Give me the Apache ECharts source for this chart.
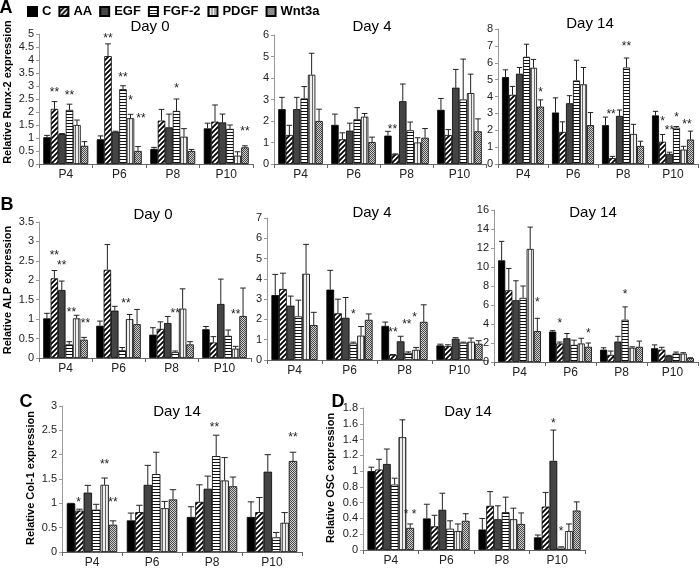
<!DOCTYPE html>
<html>
<head>
<meta charset="utf-8">
<script src="https://cdn.jsdelivr.net/npm/echarts@6/dist/echarts.min.js"></script>
<style>
html, body { margin: 0; padding: 0; background: #fff; }
#main { width: 700px; height: 569px; }
</style>
</head>
<body>
<div id="main"></div>
<script>
// categories and treatment groups
var categories = ['P4', 'P6', 'P8', 'P10'];
var groups = ['C', 'AA', 'EGF', 'FGF-2', 'PDGF', 'Wnt3a'];

// A - Runx-2, rows = groups, cols = P4..P10
var runxDay0 = [[1.03, 0.95, 0.58, 1.37], [2.12, 4.15, 1.67, 1.63], [1.15, 1.24, 1.41, 1.6], [2.08, 2.88, 2.04, 1.35], [1.5, 1.76, 1.05, 0.32], [0.7, 0.5, 0.5, 0.64]];
var runxDay0Sd = [[0.07, 0.13, 0.06, 0.2], [0.28, 0.47, 0.43, 0.64], [0.02, 0.02, 0.51, 0.32], [0.22, 0.13, 0.46, 0.15], [0.19, 0.15, 0.31, 0.15], [0.16, 0.17, 0.06, 0.06]];
var runxDay0Stars = [[0, 1, 2.85, '**'], [0, 3, 2.75, '**'], [1, 1, 4.95, '**'], [1, 3, 3.45, '**'], [1, 4, 2.55, '*'], [1, 5.4, 1.85, '**'], [2, 3, 3.0, '*'], [3, 5, 1.35, '**']];

var runxDay4 = [[2.55, 1.82, 1.32, 2.52], [1.35, 1.15, 0.45, 1.35], [2.55, 1.55, 2.92, 3.55], [3.05, 2.08, 1.57, 3.0], [4.15, 2.2, 1.0, 3.3], [2.0, 1.02, 1.22, 1.52]];
var runxDay4Sd = [[0.55, 0.5, 0.2, 0.53], [0.45, 0.3, 0.02, 0.25], [0.55, 0.35, 0.8, 0.85], [0.55, 0.54, 0.38, 1.88], [1.0, 0.15, 0.22, 0.88], [0.55, 0.23, 0.43, 0.58]];
var runxDay4Stars = [[2, 0.6, 1.75, '**']];

var runxDay14 = [[5.15, 3.05, 2.3, 2.88], [4.1, 1.9, 0.35, 1.32], [5.35, 3.6, 2.85, 0.6], [6.35, 4.95, 5.72, 2.15], [5.7, 4.72, 1.78, 0.85], [3.4, 2.3, 1.07, 1.45]];
var runxDay14Sd = [[0.43, 0.87, 0.48, 0.24], [0.5, 0.6, 0.1, 0.43], [0.37, 0.45, 0.35, 0.1], [0.75, 1.2, 0.56, 0.07], [0.5, 1.0, 0.57, 0.2], [0.4, 0.75, 0.28, 0.5]];
var runxDay14Stars = [[0, 5, 4.4, '*'], [2, 0.8, 3.1, '**'], [2, 3, 7.15, '**'], [3, 1, 2.7, '*'], [3, 2, 2.15, '**'], [3, 3, 2.9, '*'], [3, 4.5, 2.5, '**']];

// B - ALP
var alpDay0 = [[1.02, 0.83, 0.6, 0.74], [2.05, 2.27, 0.75, 0.4], [1.75, 1.22, 0.9, 1.39], [0.35, 0.2, 0.15, 0.57], [1.02, 1.0, 1.27, 0.24], [0.47, 0.87, 0.35, 1.08]];
var alpDay0Sd = [[0.13, 0.12, 0.18, 0.07], [0.2, 0.65, 0.18, 0.15], [0.23, 0.11, 0.17, 0.64], [0.07, 0.07, 0.03, 0.15], [0.08, 0.12, 0.51, 0.06], [0.06, 0.38, 0.07, 0.72]];
var alpDay0Stars = [[0, 1, 2.7, '**'], [0, 2, 2.45, '**'], [0, 3.3, 1.24, '**'], [0, 5.2, 0.96, '**'], [1, 3.5, 1.47, '**'], [2, 3, 1.21, '**'], [3, 4, 1.18, '**']];

var alpDay4 = [[3.2, 3.47, 1.68, 0.72], [3.5, 2.3, 0.25, 0.68], [2.68, 2.08, 0.92, 1.05], [2.15, 0.82, 0.35, 0.85], [4.25, 1.2, 0.5, 0.9], [1.72, 1.98, 1.88, 0.8]];
var alpDay4Sd = [[1.02, 0.95, 0.19, 0.06], [0.78, 0.7, 0.02, 0.07], [0.47, 1.0, 0.25, 0.05], [0.8, 0.06, 0.05, 0.03], [1.45, 0.45, 0.12, 0.18], [0.63, 0.29, 0.84, 0.15]];
var alpDay4Stars = [[1, 3, 2.36, '*'], [2, 1, 1.5, '**'], [2, 2.8, 1.9, '**'], [2, 3.8, 2.25, '*']];

var alpDay14 = [[10.7, 3.2, 1.3, 1.45], [7.55, 1.95, 0.75, 1.3], [6.5, 2.5, 2.15, 0.65], [6.75, 1.8, 4.45, 0.9], [11.9, 1.95, 1.5, 0.88], [3.25, 1.6, 1.6, 0.4]];
var alpDay14Sd = [[2.0, 0.1, 0.2, 0.35], [2.3, 0.15, 0.4, 0.25], [2.05, 0.5, 0.55, 0.05], [1.25, 0.5, 1.35, 0.15], [2.3, 0.55, 0.1, 0.1], [1.35, 0.4, 0.6, 0.05]];
var alpDay14Stars = [[0, 5, 6.6, '*'], [1, 1, 4.3, '*'], [1, 5, 3.3, '*'], [2, 3, 7.4, '*']];

// C - Col-1, D - OSC (day 14)
var colDay14 = [[1.0, 0.65, 0.72, 0.72], [0.85, 0.82, 1.03, 0.82], [1.22, 1.38, 1.3, 1.65], [0.87, 1.6, 1.97, 0.3], [1.38, 0.9, 1.47, 0.6], [0.56, 1.08, 1.35, 1.87]];
var colDay14Sd = [[0.0, 0.15, 0.21, 0.31], [0.03, 0.14, 0.35, 0.3], [0.15, 0.4, 0.26, 0.35], [0.11, 0.45, 0.43, 0.1], [0.14, 0.14, 0.47, 0.21], [0.08, 0.2, 0.19, 0.18]];
var colDay14Stars = [[0, 0.9, 1.07, '*'], [0, 4, 1.86, '**'], [0, 5, 1.08, '**'], [2, 2.8, 2.61, '**'], [3, 5, 2.41, '**']];

var oscDay14 = [[1.0, 0.4, 0.26, 0.16], [1.02, 0.3, 0.56, 0.55], [1.09, 0.51, 0.39, 1.13], [0.83, 0.27, 0.48, 0.03], [1.43, 0.24, 0.39, 0.24], [0.28, 0.37, 0.33, 0.5]];
var oscDay14Sd = [[0.05, 0.18, 0.14, 0.03], [0.13, 0.14, 0.18, 0.18], [0.19, 0.21, 0.17, 0.39], [0.08, 0.1, 0.19, 0.01], [0.22, 0.09, 0.14, 0.09], [0.05, 0.09, 0.14, 0.11]];
var oscDay14Stars = [[0, 5, 0.49, '* *'], [3, 2, 1.64, '*'], [3, 3, 0.27, '*']];

var GAP = 0.16;
var FONT = 'Arial, "Liberation Sans", sans-serif';

// small canvas tiles for the excel-like fills
function makeTile(w, h, draw) {
	var c = document.createElement('canvas');
	c.width = w;
	c.height = h;
	draw(c.getContext('2d'));
	return { image: c, repeat: 'repeat' };
}

var fills = [
	'#000',
	makeTile(5, 5, function(ctx) {
		ctx.fillStyle = '#fff';
		ctx.fillRect(0, 0, 5, 5);
		ctx.strokeStyle = '#000';
		ctx.lineWidth = 1.8;
		ctx.beginPath();
		ctx.moveTo(-1, 6); ctx.lineTo(6, -1);
		ctx.moveTo(-1, 1); ctx.lineTo(1, -1);
		ctx.moveTo(4, 6); ctx.lineTo(6, 4);
		ctx.stroke();
	}),
	'#444',
	makeTile(4, 3, function(ctx) {
		ctx.fillStyle = '#fff';
		ctx.fillRect(0, 0, 4, 3);
		ctx.fillStyle = '#111';
		ctx.fillRect(0, 0, 4, 1);
	}),
	makeTile(3, 4, function(ctx) {
		ctx.fillStyle = '#eee';
		ctx.fillRect(0, 0, 3, 4);
		ctx.fillStyle = '#666';
		ctx.fillRect(0, 0, 1, 4);
	}),
	makeTile(2, 2, function(ctx) {
		ctx.fillStyle = '#d0d0d0';
		ctx.fillRect(0, 0, 2, 2);
		ctx.fillStyle = '#4a4a4a';
		ctx.fillRect(0, 0, 1, 1);
		ctx.fillRect(1, 1, 1, 1);
	})
];

var panels = [
	{ vals: runxDay0, sd: runxDay0Sd, stars: runxDay0Stars, max: 5, step: 0.5, grid: { left: 39, top: 34, width: 214, height: 130 } },
	{ vals: runxDay4, sd: runxDay4Sd, stars: runxDay4Stars, max: 6, step: 1, grid: { left: 274, top: 35, width: 212, height: 129 } },
	{ vals: runxDay14, sd: runxDay14Sd, stars: runxDay14Stars, max: 8, step: 1, grid: { left: 498, top: 29, width: 200, height: 135 } },
	{ vals: alpDay0, sd: alpDay0Sd, stars: alpDay0Stars, max: 3.5, step: 0.5, grid: { left: 39, top: 222, width: 212, height: 136 } },
	{ vals: alpDay4, sd: alpDay4Sd, stars: alpDay4Stars, max: 7, step: 1, grid: { left: 267, top: 218, width: 220, height: 142 } },
	{ vals: alpDay14, sd: alpDay14Sd, stars: alpDay14Stars, max: 16, step: 2, grid: { left: 494, top: 210, width: 204, height: 152 } },
	{ vals: colDay14, sd: colDay14Sd, stars: colDay14Stars, max: 3, step: 0.5, grid: { left: 62, top: 406, width: 240, height: 149 } },
	{ vals: oscDay14, sd: oscDay14Sd, stars: oscDay14Stars, max: 1.8, step: 0.2, grid: { left: 363, top: 408, width: 222, height: 142 } }
];

// x position of bar j inside a category
function barX(api, cat, j, y) {
	var pt = api.coord([cat, y]);
	var catW = api.size([1, 0])[0];
	var total = catW * (1 - GAP);
	var bw = total / 6;
	return { x: pt[0] - total / 2 + bw * (j + 0.5), y: pt[1], bw: bw };
}

function renderErr(params, api) {
	var b = barX(api, api.value(0), api.value(3), api.value(1));
	var t = barX(api, api.value(0), api.value(3), api.value(2));
	var cap = b.bw * 0.38;
	return {
		type: 'group',
		children: [
			{ type: 'line', shape: { x1: b.x, y1: b.y, x2: b.x, y2: t.y }, style: { stroke: '#222', lineWidth: 1 } },
			{ type: 'line', shape: { x1: b.x - cap, y1: t.y, x2: b.x + cap, y2: t.y }, style: { stroke: '#222', lineWidth: 1 } }
		]
	};
}

function renderStars(stars) {
	return function(params, api) {
		var s = stars[params.dataIndex];
		var p = barX(api, s[0], s[1], s[2]);
		return {
			type: 'text',
			x: p.x,
			y: p.y + 3,
			style: { text: s[3], fill: '#222', font: '12px ' + FONT, align: 'center', verticalAlign: 'middle' }
		};
	};
}

var grids = [], xAxes = [], yAxes = [], series = [];
panels.forEach(function(p, i) {
	grids.push(p.grid);
	xAxes.push({
		gridIndex: i, type: 'category', data: categories,
		axisLine: { lineStyle: { color: '#666', width: 1 } },
		axisTick: { show: true, length: 4, lineStyle: { color: '#666' } },
		axisLabel: { color: '#222', fontSize: 12, fontFamily: FONT, margin: 5 }
	});
	yAxes.push({
		gridIndex: i, type: 'value', min: 0, max: p.max, interval: p.step,
		splitLine: { show: false },
		axisLine: { show: true, lineStyle: { color: '#999' } },
		axisTick: { show: true, length: 3, lineStyle: { color: '#999' } },
		axisLabel: { color: '#222', fontSize: 11, fontFamily: FONT, margin: 5 }
	});
	for (var j = 0; j < groups.length; j++) {
		series.push({
			type: 'bar', name: groups[j], xAxisIndex: i, yAxisIndex: i,
			data: p.vals[j],
			barGap: 0, barCategoryGap: (GAP * 100) + '%',
			itemStyle: { color: fills[j], borderColor: '#000', borderWidth: 0.8 },
			silent: true
		});
	}
	var err = [];
	for (var g = 0; g < groups.length; g++) {
		for (var k = 0; k < categories.length; k++) {
			err.push([k, p.vals[g][k], p.vals[g][k] + p.sd[g][k], g]);
		}
	}
	series.push({ type: 'custom', xAxisIndex: i, yAxisIndex: i, data: err, renderItem: renderErr, z: 5, silent: true });
	series.push({
		type: 'custom', xAxisIndex: i, yAxisIndex: i,
		data: p.stars.map(function(s) { return [s[0], s[2]]; }),
		renderItem: renderStars(p.stars), z: 6, silent: true
	});
});

function txt(x, y, text, font, rot) {
	return {
		type: 'text', x: x, y: y, rotation: rot || 0,
		style: { text: text, font: font, fill: '#000', align: 'center', verticalAlign: 'middle' }
	};
}

var titleFont = '15px ' + FONT;
var letterFont = 'bold 18px ' + FONT;
var nameFont = 'bold 11px ' + FONT;

var option = {
	animation: false,
	legend: {
		data: groups, left: 22, top: 0, icon: 'rect',
		itemWidth: 9, itemHeight: 9, itemGap: 7,
		textStyle: { fontSize: 13, fontWeight: 'bold', fontFamily: FONT, color: '#000' }
	},
	grid: grids,
	xAxis: xAxes,
	yAxis: yAxes,
	series: series,
	graphic: [
		txt(6, 8, 'A', letterFont), txt(7, 205, 'B', letterFont),
		txt(26, 402, 'C', letterFont), txt(338, 402, 'D', letterFont),
		txt(150, 27, 'Day 0', titleFont), txt(372, 27, 'Day 4', titleFont), txt(590, 24, 'Day 14', titleFont),
		txt(153, 215, 'Day 0', titleFont), txt(372, 213, 'Day 4', titleFont), txt(593, 213, 'Day 14', titleFont),
		txt(177, 412, 'Day 14', titleFont), txt(468, 412, 'Day 14', titleFont),
		txt(8, 92, 'Relative Runx-2 expression', nameFont, Math.PI / 2),
		txt(8, 290, 'Relative ALP expression', nameFont, Math.PI / 2),
		txt(31, 478, 'Relative Col-1 expression', nameFont, Math.PI / 2),
		txt(331, 478, 'Relative OSC expression', nameFont, Math.PI / 2)
	]
};

var chart = echarts.init(document.getElementById('main'));
chart.setOption(option);
</script>
</body>
</html>
